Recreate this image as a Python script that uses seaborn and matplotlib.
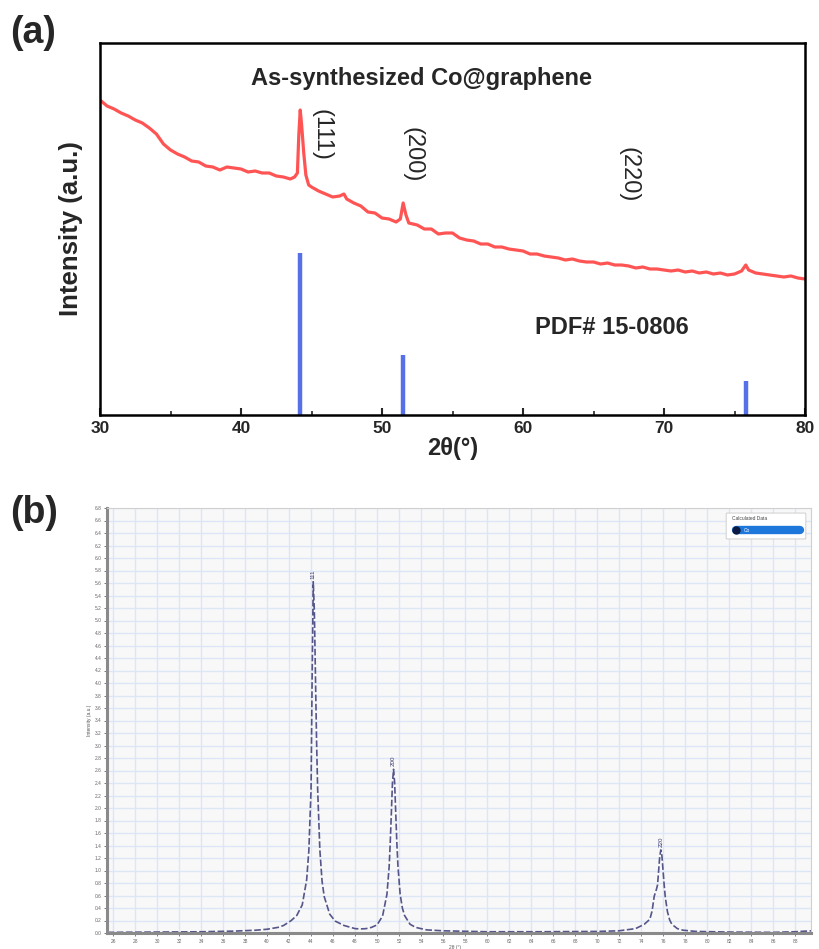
import numpy as np
import pandas as pd
import matplotlib
matplotlib.use("Agg")
import matplotlib.pyplot as plt
import seaborn as sns
from matplotlib.patches import FancyBboxPatch

# ---------------- data: panel (a) measured pattern ----------------
a_two_theta = [30.0, 30.5, 31.0, 31.5, 32.0, 32.5, 33.0, 33.5, 34.0, 34.5, 35.0, 35.5,
               36.0, 36.5, 37.0, 37.5, 38.0, 38.5, 39.0, 39.5, 40.0, 40.5, 41.0, 41.5,
               42.0, 42.5, 43.0, 43.5, 43.8, 44.0, 44.1, 44.2, 44.3, 44.45, 44.6, 44.8,
               45.0, 45.5, 46.0, 46.5, 47.0, 47.3, 47.5, 48.0, 48.5, 49.0, 49.5, 50.0,
               50.5, 51.0, 51.3, 51.5, 51.7, 51.9, 52.5, 53.0, 53.5, 54.0, 54.5, 55.0,
               55.5, 56.0, 56.5, 57.0, 57.5, 58.0, 58.5, 59.0, 59.5, 60.0, 60.5, 61.0,
               61.5, 62.0, 62.5, 63.0, 63.5, 64.0, 64.5, 65.0, 65.5, 66.0, 66.5, 67.0,
               67.5, 68.0, 68.5, 69.0, 69.5, 70.0, 70.5, 71.0, 71.5, 72.0, 72.5, 73.0,
               73.5, 74.0, 74.5, 75.0, 75.5, 75.8, 76.0, 76.5, 77.0, 77.5, 78.0, 78.5,
               79.0, 79.5, 80.0]
a_intensity = [315, 309, 306, 302, 299, 295, 292, 287, 281, 271, 265, 261,
               258, 254, 253, 249, 248, 245, 248, 247, 246, 243, 244, 242,
               242, 239, 238, 236, 238, 242, 280, 305, 290, 262, 240, 230,
               228, 224, 221, 218, 219, 221, 216, 212, 209, 203, 202, 197,
               196, 193, 196, 212, 200, 192, 190, 186, 186, 181, 182, 182,
               177, 175, 174, 171, 171, 168, 168, 166, 165, 164, 161, 161,
               159, 158, 157, 155, 156, 154, 153, 153, 151, 152, 150, 150,
               149, 147, 148, 146, 146, 145, 144, 145, 143, 144, 142, 143,
               141, 142, 140, 141, 144, 150, 145, 142, 141, 140, 139, 138,
               139, 137, 136]

# reference PDF# 15-0806 stick pattern
pdf_two_theta = [44.2, 51.5, 75.8]
pdf_intensity = [162, 60, 34]

a_hkl_labels = ["(111)", "(200)", "(220)"]
a_hkl_x = [45.74, 52.13, 67.45]
a_hkl_y = [280, 260, 240]

# ---------------- data: panel (b) calculated pattern ----------------
b_two_theta = [25.5, 30.0, 34.0, 37.0, 39.0, 40.0, 41.0, 41.5, 42.2, 42.7, 43.2, 43.6,
               43.8, 44.0, 44.1, 44.2, 44.3, 44.4, 44.5, 44.6, 44.8, 45.0, 45.2, 45.7,
               46.2, 47.0, 48.0, 48.5, 49.0, 49.5, 50.0, 50.5, 50.9, 51.1, 51.2, 51.3,
               51.4, 51.5, 51.6, 51.7, 51.8, 51.9, 52.1, 52.3, 52.5, 53.0, 53.5, 54.5,
               56.0, 60.0, 65.0, 70.0, 72.0, 73.5, 74.3, 74.8, 75.0, 75.2, 75.4, 75.5,
               75.6, 75.7, 75.8, 75.9, 76.0, 76.1, 76.2, 76.4, 76.6, 76.8, 77.3, 77.8,
               79.0, 82.0, 86.0, 88.0, 89.5]
b_intensity = [0.01, 0.015, 0.02, 0.03, 0.045, 0.06, 0.09, 0.12, 0.20, 0.28, 0.45, 0.85,
               1.32, 2.30, 4.12, 5.62, 5.15, 4.12, 3.09, 2.30, 1.33, 0.83, 0.58, 0.30,
               0.19, 0.12, 0.07, 0.065, 0.07, 0.09, 0.13, 0.27, 0.62, 1.06, 1.45, 1.92,
               2.40, 2.62, 2.40, 1.92, 1.44, 1.07, 0.62, 0.40, 0.28, 0.14, 0.09, 0.05,
               0.035, 0.02, 0.02, 0.025, 0.035, 0.07, 0.14, 0.22, 0.35, 0.59, 0.70, 0.77,
               1.00, 1.23, 1.33, 1.23, 1.00, 0.77, 0.58, 0.34, 0.21, 0.14, 0.07, 0.045,
               0.025, 0.015, 0.01, 0.02, 0.035]
b_peak_x = [44.2, 51.5, 75.8]
b_peak_y = [5.62, 2.62, 1.33]
b_peak_labels = ["111", "200", "220"]

df_a = pd.DataFrame({"tt": a_two_theta, "I": a_intensity})
df_b = pd.DataFrame({"tt": b_two_theta, "I": b_intensity})

sns.set_style("ticks")
plt.rcParams["font.family"] = ["Liberation Sans", "DejaVu Sans"]

W, H = 819, 949
fig = plt.figure(figsize=(W / 100, H / 100), dpi=100)

def rect(l, t, r, b):
    return [l / W, 1 - b / H, (r - l) / W, (b - t) / H]

# ================= panel (a) =================
axa = fig.add_axes(rect(100, 43, 805, 415))
sns.lineplot(data=df_a, x="tt", y="I", ax=axa, color="#ff5454", lw=2.3, legend=False)
axa.vlines(pdf_two_theta, 0, pdf_intensity, colors="#5570e8", lw=3.2)
axa.set_xlim(30, 80)
axa.set_ylim(0, 372)
axa.set_xticks([30, 40, 50, 60, 70, 80])
axa.set_xticks([35, 45, 55, 65, 75], minor=True)
axa.set_yticks([])
axa.tick_params(axis="x", which="major", direction="in", length=5, width=1.5,
                labelsize=12.5, pad=4)
axa.tick_params(axis="x", which="minor", direction="in", length=3, width=1.2)
for lab in axa.get_xticklabels():
    lab.set_fontweight("bold")
for sp in axa.spines.values():
    sp.set_visible(True)
    sp.set_linewidth(1.8)
    sp.set_color("black")
axa.set_xlabel("2θ(°)", fontsize=17, fontweight="bold", labelpad=1)
axa.set_ylabel("Intensity (a.u.)", fontsize=18.5, fontweight="bold", labelpad=12)
axa.text(52.8, 337, "As-synthesized Co@graphene", fontsize=17, fontweight="bold",
         ha="center", va="center")
axa.text(66.3, 87, "PDF# 15-0806", fontsize=17, fontweight="bold",
         ha="center", va="center")
for lx, ly, lt in zip(a_hkl_x, a_hkl_y, a_hkl_labels):
    axa.text(lx, ly, lt, rotation=-90, fontsize=17, ha="center", va="center")
fig.text(10 / W, 1 - 33 / H, "(a)", fontsize=27, fontweight="bold", va="center", ha="left")

# ================= panel (b) =================
axb = fig.add_axes(rect(107, 508, 811, 933))
axb.set_facecolor("#f8f8f8")
axb.set_xlim(25.45, 89.45)
axb.set_ylim(0, 6.8)
axb.set_xticks(np.arange(26, 90, 2))
axb.set_yticks(np.round(np.arange(0, 6.81, 0.2), 1))
axb.grid(True, color="#dbe6f7", lw=1.0)
axb.set_axisbelow(True)
sns.lineplot(data=df_b, x="tt", y="I", ax=axb, color="#55558a", lw=1.2,
             linestyle=(0, (4, 1.5)), legend=False)
for px, py, pl in zip(b_peak_x, b_peak_y, b_peak_labels):
    axb.text(px, py + 0.05, pl, rotation=90, fontsize=4.5, color="#3a3a70",
             ha="center", va="bottom")
axb.tick_params(axis="both", labelsize=3.5, labelcolor="#666666", length=2,
                width=0.6, color="#666666", pad=2)
axb.set_xticklabels([f"{v:.0f}" for v in np.arange(26, 90, 2)])
axb.set_yticklabels([f"{v:.1f}" for v in np.arange(0, 6.81, 0.2)])
for name, sp in axb.spines.items():
    sp.set_visible(True)
    sp.set_color("#d0d0d0")
    sp.set_linewidth(0.8)
axb.spines["left"].set_color("#8a8a8a")
axb.spines["left"].set_linewidth(2.2)
axb.spines["bottom"].set_color("#8a8a8a")
axb.spines["bottom"].set_linewidth(2.2)
axb.set_xlabel("2θ (°)", fontsize=3.5, color="#555555")
axb.xaxis.set_label_coords(0.495, -0.029)
axb.set_ylabel("Intensity (a.u.)", fontsize=3.5, color="#555555", labelpad=2)

# legend box (top right)
box = FancyBboxPatch((727 / W, 1 - 538 / H), 78 / W, 24 / H,
                     boxstyle="round,pad=0.001", transform=fig.transFigure,
                     facecolor="white", edgecolor="#c8c8c8", lw=0.6)
fig.add_artist(box)
fig.text(732 / W, 1 - 519 / H, "Calculated Data", fontsize=3.5, color="#444444",
         va="center", ha="left")
fig.add_artist(plt.Line2D([736 / W, 800 / W], [1 - 530 / H, 1 - 530 / H],
                          transform=fig.transFigure, color="#1e78dc", lw=6,
                          solid_capstyle="round"))
fig.add_artist(plt.Line2D([736 / W], [1 - 530 / H], transform=fig.transFigure,
                          marker="o", markersize=5, color="#0a1a40"))
fig.text(744 / W, 1 - 530 / H, "Co", fontsize=3.5, color="white", va="center", ha="left")

fig.text(10 / W, 1 - 513 / H, "(b)", fontsize=27, fontweight="bold", va="center", ha="left")

fig.savefig("out.png", dpi=100)
